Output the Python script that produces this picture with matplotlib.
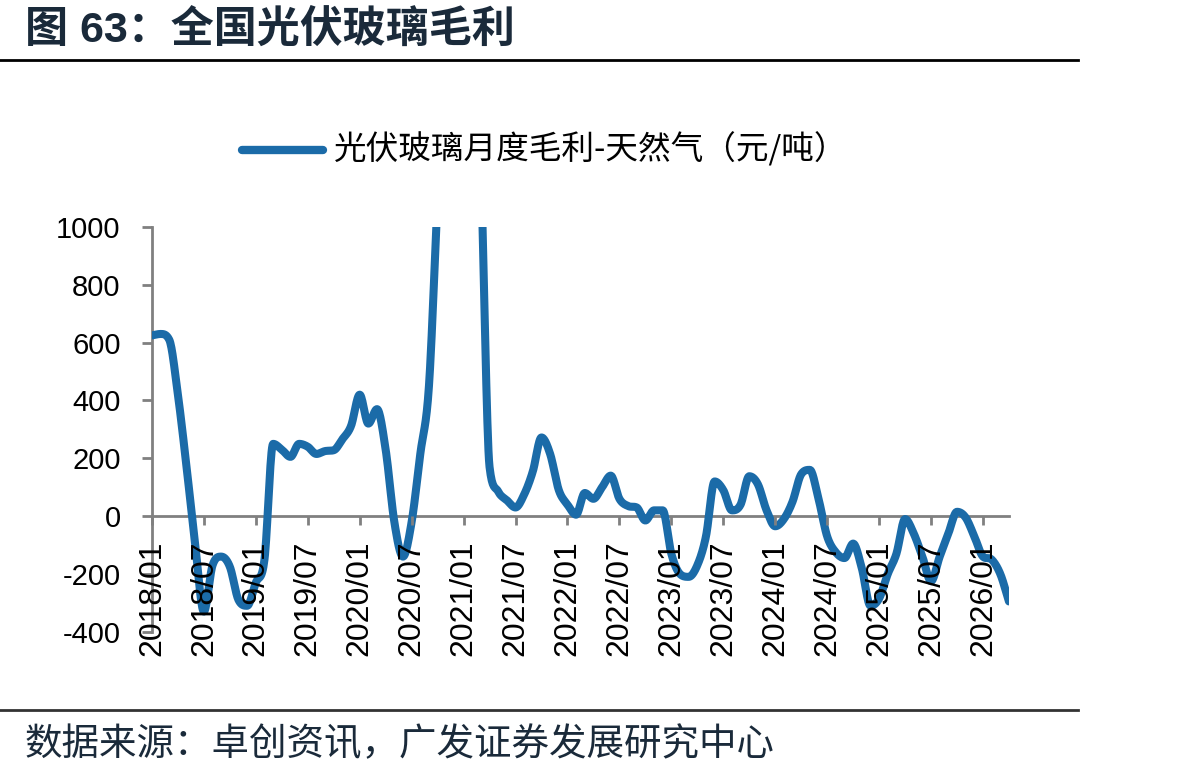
import numpy as np
import matplotlib
matplotlib.use("Agg")
import matplotlib.pyplot as plt
from matplotlib.lines import Line2D

plt.rcParams['font.family'] = ['Liberation Sans', 'Noto Sans CJK SC', 'DejaVu Sans']
plt.rcParams['axes.unicode_minus'] = False

# monthly gross margin, 2018/01 .. 2026/04 (yuan/ton)
margin = [625, 630, 610, 420, 170, -100, -330, -170, -140, -175,
          -290, -310, -230, -150, 250, 230, 205, 250, 240, 215,
          225, 228, 266, 312, 420, 320, 370, 230, -20, -140,
          -20, 215, 450, 1100, 1700, 2100, 2200, 1900, 1200, 170,
          85, 55, 30, 75, 155, 272, 215, 90, 40, 5,
          80, 60, 100, 140, 60, 35, 30, -15, 20, 20,
          -130, -200, -210, -170, -70, 120, 90, 20, 40, 138,
          110, 20, -35, -10, 50, 145, 160, 60, -70, -125,
          -145, -95, -180, -310, -285, -200, -130, -10, -60, -140,
          -225, -140, -60, 15, -5, -70, -140, -150, -200, -295]

tick_labels = ['2018/01', '2018/07', '2019/01', '2019/07', '2020/01', '2020/07',
               '2021/01', '2021/07', '2022/01', '2022/07', '2023/01', '2023/07',
               '2024/01', '2024/07', '2025/01', '2025/07', '2026/01']

title = '图 63：全国光伏玻璃毛利'
legend_text = '光伏玻璃月度毛利-天然气（元/吨）'
source = '数据来源：卓创资讯，广发证券发展研究中心'

line_color = '#1b6ba8'
axis_color = '#808080'


def smooth(y, n=16):
    """ hermite curve through the points, like the smoothed line of a spreadsheet """
    y = np.asarray(y, float)
    d = np.diff(y)
    m = np.zeros_like(y)
    m[1:-1] = (y[2:] - y[:-2]) / 2
    m[0] = d[0]
    m[-1] = d[-1]
    for k in range(1, len(y) - 1):
        if d[k - 1] * d[k] <= 0:
            m[k] = 0
        else:
            lim = 3 * min(abs(d[k - 1]), abs(d[k]))
            if abs(m[k]) > lim:
                m[k] = np.sign(m[k]) * lim
    t = np.linspace(0, 1, n, endpoint=False)
    h00 = 2 * t**3 - 3 * t**2 + 1
    h10 = t**3 - 2 * t**2 + t
    h01 = -2 * t**3 + 3 * t**2
    h11 = t**3 - t**2
    xs, ys = [], []
    for k in range(len(y) - 1):
        xs.append(k + t)
        ys.append(h00 * y[k] + h10 * m[k] + h01 * y[k + 1] + h11 * m[k + 1])
    xs.append([len(y) - 1])
    ys.append([y[-1]])
    return np.concatenate(xs), np.concatenate(ys)


fig = plt.figure(figsize=(11.87, 7.8), dpi=100)
ax = fig.add_axes([0.128, 0.190, 0.722, 0.519])

for s in ['top', 'right']:
    ax.spines[s].set_visible(False)
ax.spines['bottom'].set_position(('data', 0))
for s in ['left', 'bottom']:
    ax.spines[s].set_color(axis_color)
    ax.spines[s].set_linewidth(2)

sx, sy = smooth(margin)
ax.plot(sx, sy, color=line_color, lw=5.8, solid_capstyle='round',
        solid_joinstyle='round', zorder=2.6)

ax.set_xlim(0, len(margin) - 1)
ax.set_ylim(-400, 1000)
ax.set_yticks(np.arange(-400, 1001, 200))
ax.set_xticks(np.arange(0, 6 * len(tick_labels), 6))
ax.set_xticklabels(tick_labels)

ax.tick_params(axis='y', direction='out', length=7.5, width=2, color=axis_color,
               pad=15, labelsize=21)
ax.tick_params(axis='x', direction='out', length=6.5, width=2, color=axis_color,
               pad=11, labelsize=23, labelrotation=90)
for lab in ax.get_xticklabels():
    lab.set_ha('center')
    lab.set_va('top')
ax.xaxis.set_zorder(2.7)

# title and rules
fig.text(0.021, 0.961, title, fontsize=31, fontweight='bold', color='#1a2a3a',
         ha='left', va='center')
fig.add_artist(Line2D([0, 0.908], [0.923, 0.923], color='black', lw=2))
fig.add_artist(Line2D([0, 0.908], [0.090, 0.090], color='#333333', lw=2))
fig.text(0.021, 0.045, source, fontsize=27, color='#1a2a3a', ha='left', va='center',
         family=['Noto Sans CJK SC', 'DejaVu Sans'])

# legend drawn by hand
fig.add_artist(Line2D([0.204, 0.272], [0.808, 0.808], color=line_color, lw=6,
                      solid_capstyle='round'))
fig.text(0.281, 0.808, legend_text, fontsize=23.5, color='black', ha='left', va='center',
         family=['Noto Sans CJK SC', 'DejaVu Sans'])

fig.savefig('out.png', dpi=100)
